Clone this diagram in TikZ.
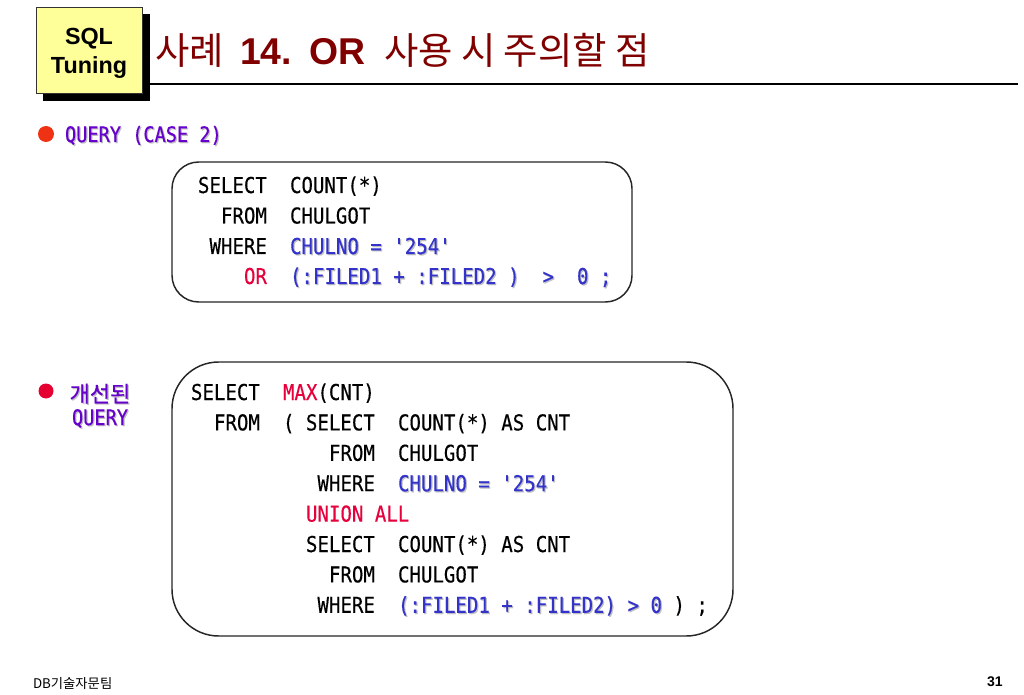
\documentclass[tikz,border=0pt]{standalone}
\usepackage{fontspec}
\setmainfont{Liberation Sans}
\newfontfamily\krfont{Noto Sans CJK KR}
\newfontfamily\krbul[FakeBold=0.6]{Noto Sans CJK KR}
\newfontfamily\codefont[FakeStretch=0.872, FakeBold=0.35]{DejaVu Sans Mono}
\definecolor{titlered}{RGB}{128,0,0}
\definecolor{logoyellow}{RGB}{255,255,153}
\definecolor{codeblue}{RGB}{51,51,204}
\definecolor{codered}{RGB}{230,0,60}
\definecolor{bulpurple}{RGB}{102,0,204}
\definecolor{dotorange}{RGB}{240,50,20}
\definecolor{dotred}{RGB}{230,0,50}
\newcommand{\shtx}[2]{\makebox[0pt][l]{\hspace{0.9pt}\raisebox{-0.9pt}{\textcolor{black!25}{#2}}}\textcolor{#1}{#2}}
\begin{document}
\begin{tikzpicture}[x=0.75pt,y=-0.75pt,
  txt/.style={inner sep=0pt, outer sep=0pt, anchor=base west},
  ttl/.style={txt, text=titlered, font=\fontsize{28pt}{32pt}\selectfont},
  code/.style={txt, font=\codefont\fontsize{16.4pt}{19pt}\selectfont},
  codebox/.style={draw=black!85, line width=1.1pt},
  logotxt/.style={inner sep=0pt, anchor=base, font=\bfseries\fontsize{17.5pt}{21pt}\selectfont}]
\useasboundingbox[fill=white] (0,0) rectangle (1024,695);
\def\pp{11.5}
% logo
\fill[black] (43,14) rectangle (150,101);
\draw[fill=logoyellow, draw=black!80, line width=0.6pt] (36,7) rectangle (142,93);
\node[logotxt] (lg1) at (89,45) {SQL};
\node[logotxt] (lg2) at (89,74) {Tuning};
% title
\node[ttl] (t1) at (155,65) {\krfont 사례};
\node[ttl] (t2) at (240,65) {\bfseries 14.};
\node[ttl] (t3) at (309,65) {\bfseries OR};
\node[ttl] (t4) at (384,65) {\krfont 사용 시 주의할 점};
\draw[line width=2.2pt] (150,84) -- (1018,84);
% bullet 1
\fill[dotorange] (46,134) circle (8);
\node[code, font=\codefont\fontsize{16pt}{19pt}\selectfont] (b1) at (65,142) {\shtx{bulpurple}{QUERY (CASE 2)}};
% box 1
\draw[codebox, rounded corners=20] (172,162) rectangle (632,302);
\def\xa{198}
\node[code] (a1a) at ({\xa},193) {SELECT};
\node[code] (a1b) at ({\xa+8*\pp},193) {COUNT(*)};
\node[code] (a2a) at ({\xa+2*\pp},223.5) {FROM};
\node[code] (a2b) at ({\xa+8*\pp},223.5) {CHULGOT};
\node[code] (a3a) at ({\xa+1*\pp},254) {WHERE};
\node[code] (a3b) at ({\xa+8*\pp},254) {\shtx{codeblue}{CHULNO = '254'}};
\node[code] (a4a) at ({\xa+4*\pp},284) {\textcolor{codered}{OR}};
\node[code] (a4b) at ({\xa+8*\pp},284) {\shtx{codeblue}{(:FILED1 + :FILED2 )\ \ >\ \ 0 ;}};
% bullet 2
\fill[dotred] (46,391) circle (7.5);
\node[inner sep=0pt, anchor=base, font=\krbul\fontsize{16.5pt}{18pt}\selectfont] (b2a) at (100,402) {\shtx{bulpurple}{개선된}};
\node[inner sep=0pt, anchor=base, font=\codefont\fontsize{16pt}{19pt}\selectfont] (b2b) at (100,425) {\shtx{bulpurple}{QUERY}};
% box 2
\draw[codebox, rounded corners=35] (172,362) rectangle (733,636);
\def\xb{191}
\def\ya{400}\def\yb{430.4}\def\yc{460.8}\def\yd{491.2}
\def\ye{521.6}\def\yf{552}\def\yg{582.4}\def\yh{612.8}
\node[code] (c1a) at ({\xb},\ya) {SELECT};
\node[code] (c1b) at ({\xb+8*\pp},\ya) {\textcolor{codered}{MAX}(CNT)};
\node[code] (c2a) at ({\xb+2*\pp},\yb) {FROM};
\node[code] (c2b) at ({\xb+8*\pp},\yb) {(\ SELECT};
\node[code] (c2d) at ({\xb+18*\pp},\yb) {COUNT(*) AS CNT};
\node[code] (c3a) at ({\xb+12*\pp},\yc) {FROM};
\node[code] (c3b) at ({\xb+18*\pp},\yc) {CHULGOT};
\node[code] (c4a) at ({\xb+11*\pp},\yd) {WHERE};
\node[code] (c4b) at ({\xb+18*\pp},\yd) {\shtx{codeblue}{CHULNO = '254'}};
\node[code] (c5a) at ({\xb+10*\pp},\ye) {\textcolor{codered}{UNION ALL}};
\node[code] (c6a) at ({\xb+10*\pp},\yf) {SELECT};
\node[code] (c6b) at ({\xb+18*\pp},\yf) {COUNT(*) AS CNT};
\node[code] (c7a) at ({\xb+12*\pp},\yg) {FROM};
\node[code] (c7b) at ({\xb+18*\pp},\yg) {CHULGOT};
\node[code] (c8a) at ({\xb+11*\pp},\yh) {WHERE};
\node[code] (c8b) at ({\xb+18*\pp},\yh) {\shtx{codeblue}{(:FILED1 + :FILED2) > 0}\ )\ ;};
% footer
\node[txt, font=\krfont\fontsize{10pt}{12pt}\selectfont] (f1) at (33,688) {DB기술자문팀};
\node[inner sep=0pt, anchor=base east, font=\bfseries\fontsize{10.5pt}{12pt}\selectfont] (f2) at (1003,686) {31};
\end{tikzpicture}
\end{document}
